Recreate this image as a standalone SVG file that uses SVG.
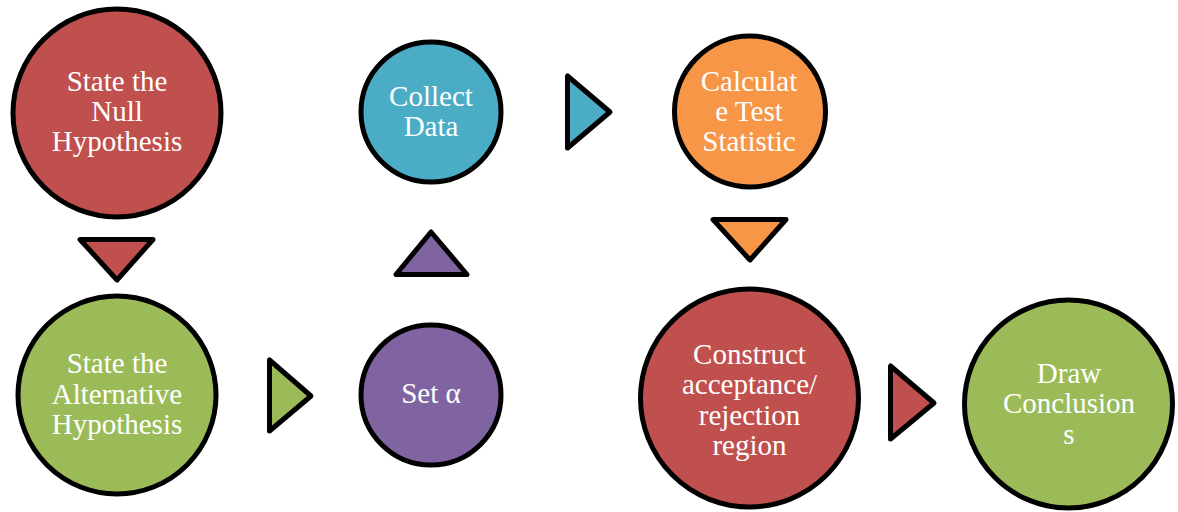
<svg xmlns="http://www.w3.org/2000/svg" width="1178" height="512" viewBox="0 0 1178 512">
  <rect width="1178" height="512" fill="#FFFFFF"/>

  <!-- Flow arrows between steps -->
  <g id="connectors" stroke="#000000" stroke-width="5" stroke-linejoin="round">
    <polygon fill="#C0504D" points="80,239.5 153,239.5 117,280"/>
    <polygon fill="#9BBB59" points="269.5,360 269.5,431 311,396"/>
    <polygon fill="#8064A2" points="431,232 396,274.5 467,274.5"/>
    <polygon fill="#4BACC6" points="567.5,76 567.5,148 610,112"/>
    <polygon fill="#F79646" points="713,219.5 786,219.5 750,260"/>
    <polygon fill="#C0504D" points="890.5,366 890.5,439 934,403"/>
  </g>

  <g font-family="Liberation Serif" font-size="29" fill="#FFFFFF" text-anchor="middle">
    <g id="null-hypothesis">
      <circle fill="#C0504D" stroke="#000000" stroke-width="5" cx="117" cy="113" r="104"/>
      <text x="117" y="91">State the</text>
      <text x="117" y="121">Null</text>
      <text x="117" y="151">Hypothesis</text>
    </g>

    <g id="alternative-hypothesis">
      <circle fill="#9BBB59" stroke="#000000" stroke-width="5" cx="117" cy="395" r="99"/>
      <text x="117" y="373">State the</text>
      <text x="117" y="404">Alternative</text>
      <text x="117" y="434">Hypothesis</text>
    </g>

    <g id="set-alpha">
      <circle fill="#8064A2" stroke="#000000" stroke-width="5" cx="431" cy="395" r="70"/>
      <text x="431" y="403">Set α</text>
    </g>

    <g id="collect-data">
      <circle fill="#4BACC6" stroke="#000000" stroke-width="5" cx="431" cy="112" r="70"/>
      <text x="431" y="106">Collect</text>
      <text x="431" y="136">Data</text>
    </g>

    <g id="test-statistic">
      <circle fill="#F79646" stroke="#000000" stroke-width="5" cx="750" cy="111.5" r="75.5"/>
      <text x="749" y="91">Calculat</text>
      <text x="749" y="121">e Test</text>
      <text x="749" y="151">Statistic</text>
    </g>

    <g id="rejection-region">
      <circle fill="#C0504D" stroke="#000000" stroke-width="5" cx="749.5" cy="398" r="109"/>
      <text x="749.5" y="363.5">Construct</text>
      <text x="749.5" y="394">acceptance/</text>
      <text x="749.5" y="424.5">rejection</text>
      <text x="749.5" y="455">region</text>
    </g>

    <g id="draw-conclusions">
      <circle fill="#9BBB59" stroke="#000000" stroke-width="5" cx="1068.5" cy="404" r="104"/>
      <text x="1069" y="383">Draw</text>
      <text x="1069" y="413">Conclusion</text>
      <text x="1069" y="444">s</text>
    </g>
  </g>
</svg>
